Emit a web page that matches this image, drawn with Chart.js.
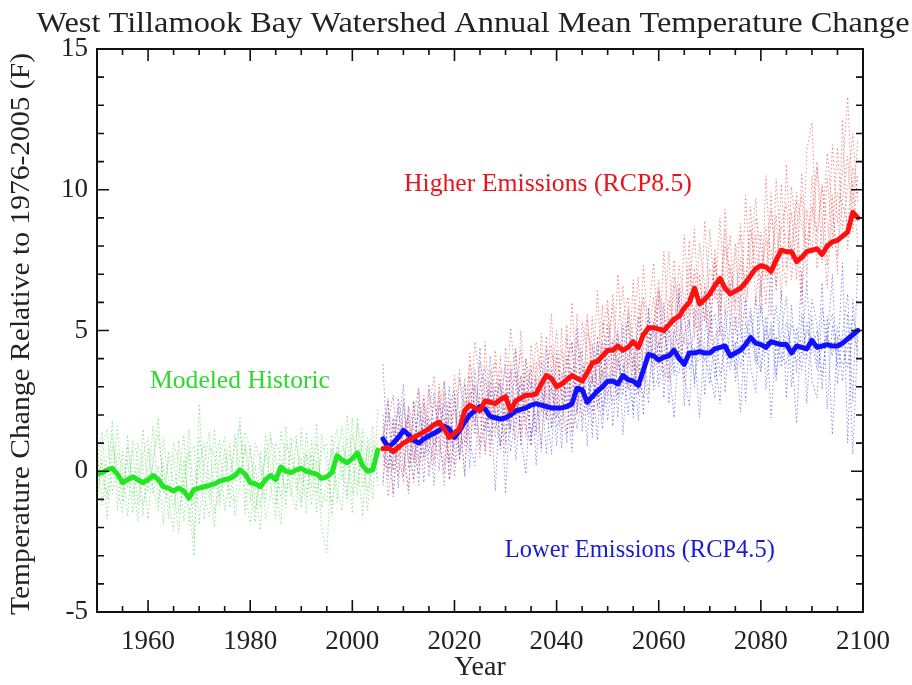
<!DOCTYPE html>
<html><head><meta charset="utf-8">
<script src="https://cdn.jsdelivr.net/npm/chart.js@4/dist/chart.umd.min.js"></script>
<style>html,body{margin:0;padding:0;background:#fff}</style>
</head><body>
<canvas id="c" width="912" height="685"></canvas>
<script>
// ---------- DATA ----------
const histStartYear = 1950;
const futureStartYear = 2006;
const xTickLabels = [1960, 1980, 2000, 2020, 2040, 2060, 2080, 2100];
const yTickLabels = [-5, 0, 5, 10, 15];

// Modeled historic ensemble mean (1950-2005)
const historicMean = [-0.1,-0.05,0.05,0.1,-0.1,-0.4,-0.3,-0.2,-0.3,-0.4,
  -0.3,-0.15,-0.3,-0.55,-0.6,-0.7,-0.6,-0.7,-0.95,-0.65,
  -0.6,-0.55,-0.5,-0.45,-0.35,-0.3,-0.25,-0.15,0.05,-0.1,
  -0.4,-0.45,-0.55,-0.3,-0.15,-0.3,0.15,0.0,-0.05,0.05,
  0.1,0.0,-0.05,-0.1,-0.25,-0.2,-0.05,0.55,0.4,0.3,
  0.45,0.65,0.2,0.0,0.05,0.75];
// Individual historic model runs
const historicRun1 = [0.8,-1.2,0.5,1.3,-0.6,-1.5,0.9,-0.3,-1.8,0.6,1.2,-0.8,0.2,-1.9,0.7,-0.5,-2.2,0.4,-1.1,-3.0,2.4,-0.9,-1.6,0.3,1.1,-1.4,-0.2,0.9,1.6,-0.7,-1.9,0.2,-1.3,0.8,-0.5,-1.7,1.4,0.3,-0.9,1.1,-0.4,0.7,-1.2,0.4,-2.0,-2.9,0.6,1.5,-0.3,1.2,-0.8,1.7,-0.6,0.9,-1.0,2.3];
const historicRun2 = [-1.3,0.9,1.5,-0.8,0.6,0.2,-1.6,1.1,0.5,-1.2,-0.4,1.6,-1.1,0.3,-1.7,1.0,0.4,-1.8,0.6,0.9,-1.9,0.3,1.4,-1.5,-0.6,0.8,-1.3,1.3,-0.4,1.0,-0.2,-1.8,0.7,-1.1,1.2,0.5,-1.0,1.6,-0.6,-1.4,1.5,-0.9,0.6,-1.5,1.3,0.2,-1.2,0.4,1.6,-0.9,1.9,-0.5,1.1,-1.4,0.8,-0.3];
const historicRun3 = [0.3,1.4,-1.0,-0.2,1.6,-0.7,0.4,-1.5,1.0,0.2,-1.7,0.5,1.3,-0.4,-1.0,-2.1,1.1,-0.8,1.5,-1.2,0.1,1.0,-0.3,-2.0,0.6,1.2,-0.8,-1.1,0.5,1.4,0.8,-0.6,-2.1,1.3,0.1,-0.5,-1.9,1.0,0.5,-0.2,-1.3,1.4,-0.2,1.0,-0.8,-1.1,1.3,-0.6,-1.4,2.0,0.3,-0.9,1.5,0.2,1.6,-0.6];
const historicRun4 = [-0.9,0.4,-1.7,0.9,0.2,-1.1,1.3,-0.9,0.1,-1.6,0.8,-0.6,-1.4,1.2,-0.3,-1.3,-0.2,1.3,-1.9,-0.4,0.5,-1.7,0.9,0.6,-1.2,0.3,1.0,-1.6,-0.5,0.9,-1.1,1.0,0.4,-1.7,-0.9,1.0,0.6,-1.3,1.2,-0.7,0.5,-1.5,1.1,-0.8,0.7,1.0,-1.6,0.9,0.2,-1.1,1.3,0.4,-1.6,1.2,-0.1,1.1];
const historicRun5 = [0.5,-0.3,-0.8,1.8,-1.4,0.7,-0.6,0.8,-1.2,1.5,-0.7,0.3,1.9,-0.8,0.4,0.6,-1.5,-0.3,0.8,-2.4,1.2,0.2,-1.0,1.5,-0.9,-0.2,0.7,-0.4,1.9,-1.5,0.9,-1.4,-0.3,0.5,1.4,-1.2,0.2,-0.8,0.9,1.3,-1.1,0.6,-0.6,1.7,-1.3,-0.4,0.8,-1.1,0.9,0.5,-1.5,1.9,0.4,-0.7,1.0,0.3];

// Higher emissions (RCP8.5) ensemble mean (2006-2099)
const rcp85Mean = [0.8,0.85,0.7,0.85,1.0,1.1,1.2,1.3,1.4,1.5,
  1.65,1.75,1.5,1.2,1.35,1.5,2.15,2.35,2.25,2.15,
  2.5,2.45,2.4,2.55,2.65,2.15,2.5,2.6,2.7,2.7,
  2.75,3.1,3.4,3.3,3.0,3.1,3.25,3.4,3.3,3.2,
  3.5,3.85,3.9,4.1,4.3,4.3,4.45,4.3,4.4,4.6,
  4.4,4.85,5.1,5.1,5.05,5.0,5.2,5.4,5.5,5.8,
  6.0,6.5,5.95,6.1,6.3,6.6,6.85,6.5,6.3,6.4,
  6.5,6.7,6.95,7.2,7.3,7.25,7.1,7.5,7.85,7.8,
  7.8,7.45,7.6,7.8,7.85,7.9,7.7,8.0,8.15,8.2,
  8.35,8.5,9.2,9.0];
const rcp85Run1 = [-0.5,2.1,1.4,-0.2,2.6,0.3,1.9,3.0,0.4,2.2,
  3.4,0.6,2.8,-0.3,1.2,3.6,1.0,4.2,2.1,0.5,
  4.6,1.8,3.9,0.9,4.4,2.5,1.1,5.0,2.2,3.8,
  1.4,4.9,2.6,5.6,1.9,4.3,2.3,6.0,3.0,1.8,
  5.4,3.1,6.4,2.9,5.8,3.4,7.0,4.2,2.9,6.8,
  3.5,7.3,4.6,6.2,3.7,7.8,4.9,6.6,3.9,8.4,
  5.5,7.2,4.3,8.9,5.9,7.6,4.8,9.3,6.2,8.1,
  5.0,9.8,6.7,8.4,5.6,10.5,7.0,9.1,6.1,10.9,
  7.5,9.6,6.3,11.4,12.4,8.0,10.2,7.3,11.6,8.8,
  10.6,13.3,9.4,11.8];
const rcp85Run2 = [1.6,-0.9,0.5,2.4,0.0,1.8,-0.4,1.5,2.7,0.1,
  1.3,2.9,0.2,2.5,-0.2,1.6,3.3,0.7,3.1,1.9,
  0.8,3.6,2.0,4.1,1.3,3.2,4.4,1.5,3.5,0.9,
  3.9,2.1,4.8,1.6,4.0,2.8,5.2,1.5,4.7,3.9,
  2.2,5.5,2.6,4.9,6.1,3.0,5.0,6.6,3.7,5.2,
  6.9,3.2,5.6,7.4,4.4,5.3,7.8,4.0,6.7,5.4,
  8.2,4.7,7.0,5.3,8.6,6.1,9.0,5.6,7.3,5.7,
  8.8,6.4,9.4,5.9,8.5,6.8,9.9,6.4,10.2,7.2,
  9.2,6.8,10.6,7.6,9.0,11.0,7.4,10.4,8.3,11.5,
  8.6,10.0,12.0,9.5];
const rcp85Run3 = [0.2,1.1,-0.8,1.7,0.6,-0.6,2.5,0.2,1.1,3.1,
  0.4,2.2,3.2,0.3,2.8,0.4,2.5,1.4,4.6,3.2,
  1.5,2.6,4.3,2.1,0.6,3.9,1.9,3.4,1.2,4.5,
  2.8,0.9,3.6,4.5,2.3,5.1,1.3,3.7,2.0,5.3,
  4.2,1.6,3.8,5.9,2.4,4.7,3.6,5.5,6.2,2.9,
  5.9,4.4,2.8,5.0,6.8,3.3,5.6,7.5,4.9,3.2,
  6.3,8.6,5.0,6.6,4.2,7.9,5.7,7.0,8.4,4.9,
  7.3,5.4,8.0,9.7,6.2,8.7,5.5,10.4,7.7,6.6,
  10.1,8.3,5.9,9.3,7.7,10.8,9.0,6.5,9.8,7.0,
  12.5,7.9,10.3,8.0];
const rcp85Run4 = [1.0,2.6,0.0,1.2,-0.4,2.3,0.8,-0.1,2.6,1.3,
  0.2,3.1,1.6,1.0,3.4,2.0,-0.1,2.9,1.6,3.9,
  2.8,0.5,3.2,3.0,2.0,5.1,3.3,1.2,4.0,2.9,
  4.6,3.3,1.9,4.2,3.6,1.4,4.8,2.7,5.6,2.4,
  4.9,4.4,2.2,5.3,3.6,6.3,4.0,3.0,5.8,4.6,
  2.8,6.0,5.7,3.9,6.4,5.6,3.2,6.9,5.8,4.5,
  7.3,5.1,8.1,6.6,4.9,7.4,6.2,8.6,5.2,7.7,
  8.4,6.0,7.1,9.0,8.0,5.9,9.3,7.6,8.8,9.5,
  6.8,8.7,9.8,6.9,10.5,7.2,8.6,11.3,9.2,7.6,
  9.7,11.2,8.5,10.6];
const rcp85Run5 = [0.6,0.0,1.8,0.5,1.3,2.0,0.3,2.4,1.0,0.9,
  2.5,1.4,-0.5,1.9,2.2,0.8,1.9,3.8,2.4,1.0,
  3.3,2.2,1.2,3.6,3.5,1.5,3.0,4.3,1.8,2.3,
  3.5,4.2,2.0,3.1,5.0,2.5,3.9,4.6,2.4,4.3,
  5.6,3.2,4.6,3.4,4.5,5.9,2.7,4.8,5.3,3.6,
  5.1,6.2,4.3,5.3,6.5,4.7,6.1,5.1,7.3,6.0,
  5.2,7.0,6.8,5.4,7.2,6.6,5.5,8.0,7.1,6.0,
  7.6,6.5,8.6,7.3,6.9,8.2,7.9,6.6,8.7,8.3,
  7.9,9.9,8.7,8.1,9.4,8.5,10.1,8.8,7.9,9.9,
  9.5,8.7,10.8,9.8];

// Lower emissions (RCP4.5) ensemble mean (2006-2099)
const rcp45Mean = [1.15,0.85,1.0,1.2,1.45,1.3,1.1,1.0,1.15,1.25,
  1.35,1.45,1.6,1.5,1.2,1.45,1.75,2.0,2.15,2.3,
  2.2,1.95,1.9,1.85,1.9,2.0,2.15,2.2,2.25,2.35,
  2.4,2.35,2.3,2.25,2.25,2.25,2.3,2.4,2.95,2.9,
  2.45,2.65,2.85,3.0,3.2,3.2,3.1,3.4,3.25,3.2,
  3.05,3.6,4.15,4.1,3.95,4.05,4.1,4.3,4.0,3.8,
  4.2,4.2,4.25,4.2,4.2,4.35,4.4,4.45,4.1,4.2,
  4.3,4.5,4.75,4.55,4.5,4.4,4.6,4.55,4.5,4.5,
  4.2,4.45,4.4,4.35,4.65,4.4,4.45,4.5,4.45,4.45,
  4.55,4.7,4.85,5.0];
const rcp45Run1 = [3.8,0.1,1.9,-0.6,2.4,0.8,-0.3,2.9,0.5,1.7,
  -0.5,2.6,0.9,3.0,0.2,2.1,-0.2,3.4,1.3,4.4,
  0.6,2.9,-0.7,3.1,1.0,3.6,0.4,2.4,4.0,1.1,
  3.3,0.7,4.4,1.5,3.0,0.8,4.1,2.0,5.1,1.4,
  3.6,1.2,4.8,2.2,5.2,1.6,4.0,2.7,5.6,1.9,
  4.6,2.0,5.8,3.1,6.2,2.6,5.0,3.4,6.5,2.3,
  5.4,3.0,6.0,2.7,5.7,3.3,6.6,2.8,5.3,3.6,
  6.3,2.5,5.6,3.9,6.9,2.9,5.1,3.2,6.4,2.6,
  5.9,3.5,7.1,2.4,5.5,3.8,6.7,2.2,5.2,3.7,
  7.4,1.0,6.1,3.9];
const rcp45Run2 = [-0.4,1.8,2.7,0.3,-0.2,2.3,1.6,-0.5,2.4,0.6,
  2.8,1.1,-0.1,2.3,2.9,0.4,3.1,1.0,0.2,3.0,
  3.7,0.9,2.4,3.3,-0.8,2.6,3.5,1.2,-0.1,3.2,
  1.3,3.9,2.4,0.6,4.3,2.7,1.0,4.6,2.1,3.8,
  0.9,4.5,3.0,1.5,4.3,4.6,1.9,5.2,3.3,2.2,
  5.5,3.6,2.4,5.3,4.0,6.0,2.4,4.9,6.3,3.4,
  2.3,5.8,4.1,6.4,3.5,2.6,5.4,4.7,6.7,3.2,
  4.6,6.1,3.7,2.8,5.9,4.3,7.2,3.4,4.9,6.2,
  3.0,5.1,4.2,6.8,3.2,2.6,5.8,4.6,7.0,3.1,
  4.9,6.3,2.5,7.5];
const rcp45Run3 = [1.2,2.5,-0.9,1.5,3.1,0.1,1.0,2.1,-0.4,2.9,
  1.7,0.0,3.2,1.4,0.8,3.3,2.2,0.1,3.6,2.0,
  1.4,4.1,2.0,0.8,2.9,1.5,4.3,0.9,2.8,3.6,
  0.2,2.9,1.8,3.7,0.9,3.5,2.6,0.7,3.9,4.3,
  2.0,3.3,1.1,4.6,2.7,3.8,5.0,1.3,4.1,4.4,
  1.8,4.7,5.4,2.9,3.4,5.1,3.9,1.9,4.8,5.6,
  3.6,4.4,1.9,4.9,6.1,4.0,2.4,5.7,3.8,4.6,
  2.1,5.3,4.4,6.2,3.6,5.5,1.9,4.8,3.9,5.3,
  4.3,1.7,5.6,4.0,6.1,5.2,2.9,5.5,1.3,4.8,
  3.2,5.6,0.6,4.9];
const rcp45Run4 = [2.0,-0.3,1.3,2.2,0.9,-0.8,2.5,0.4,1.9,-0.2,
  1.1,2.3,1.9,0.3,2.6,0.6,1.4,2.7,3.0,0.8,
  1.7,3.2,1.5,2.5,3.8,0.7,2.1,3.1,1.6,0.9,
  2.9,3.2,0.6,3.0,1.9,2.4,3.4,1.3,2.2,3.5,
  3.9,2.1,4.3,1.9,3.5,2.4,4.8,3.9,2.0,4.1,
  2.7,3.8,4.5,5.1,3.0,4.2,5.4,3.6,3.5,4.9,
  5.3,3.2,4.7,3.9,5.0,5.6,3.4,4.5,4.0,5.5,
  3.7,4.6,5.8,4.2,3.5,5.1,4.5,5.9,4.1,3.8,
  5.2,4.8,3.6,5.3,4.2,5.0,3.4,4.9,5.6,4.2,
  3.8,4.4,5.5,4.6];
const rcp45Run5 = [0.5,1.0,0.1,2.6,1.4,2.0,0.4,1.3,1.0,1.9,
  0.9,1.6,2.4,-0.3,1.5,1.2,0.9,2.2,1.8,2.6,
  2.4,1.3,3.0,0.9,2.3,1.4,1.6,3.4,2.5,1.3,
  2.1,2.0,3.2,2.9,1.6,1.9,3.0,2.8,1.5,2.7,
  2.5,3.4,2.3,3.6,1.8,3.5,2.6,3.8,2.9,3.3,
  3.8,2.6,4.4,3.7,4.6,3.5,3.3,5.0,4.3,3.9,
  4.6,4.0,3.9,4.4,3.1,4.8,5.1,4.2,3.6,4.5,
  5.0,4.1,4.9,3.8,4.6,4.2,5.3,4.4,3.7,4.8,
  4.5,3.9,4.1,5.0,4.7,3.6,4.4,4.8,4.1,5.1,
  4.4,3.7,4.9,4.3];

// ---------- CHART ----------
const SERIF = "'Liberation Serif', 'Times New Roman', serif";
function toPoints(startYear, values) {
  return values.map((v, i) => ({ x: startYear + i, y: v }));
}
function runStyle(color) {
  return { borderColor: color, borderWidth: 1, borderDash: [1.5, 2.5], pointRadius: 0, tension: 0, fill: false };
}
function meanStyle(color) {
  return { borderColor: color, borderWidth: 5, pointRadius: 0, tension: 0, fill: false, borderJoinStyle: 'round', borderCapStyle: 'round' };
}

// text placed in data coordinates (annotations) or canvas coordinates (titles)
const labelNotes = [
  { text: 'Higher Emissions (RCP8.5)', x: 2038.3, y: 10.2, color: '#e8141c', width: 288 },
  { text: 'Modeled Historic', x: 1978, y: 3.2, color: '#2ed82e', width: 180 },
  { text: 'Lower Emissions (RCP4.5)', x: 2056.3, y: -2.8, color: '#1a1ad6', width: 270 }
];
const chartTitle = 'West Tillamook Bay Watershed Annual Mean Temperature Change';
const yAxisTitle = 'Temperature Change Relative to 1976-2005 (F)';

function drawFitted(ctx, text, cx, cy, size, width, rot, color) {
  ctx.save();
  ctx.font = size + 'px ' + SERIF;
  ctx.textAlign = 'center';
  ctx.textBaseline = 'middle';
  ctx.fillStyle = color;
  const w = ctx.measureText(text).width;
  ctx.translate(cx, cy);
  ctx.rotate(rot);
  ctx.scale(width / w, 1);
  ctx.fillText(text, 0, 0);
  ctx.restore();
}

const frameTicks = {
  id: 'frameTicks',
  afterDatasetsDraw(chart) {
    const { ctx, chartArea: a, scales: { x, y } } = chart;
    ctx.save();
    ctx.strokeStyle = '#111';
    ctx.lineWidth = 2;
    ctx.strokeRect(a.left, a.top, a.right - a.left, a.bottom - a.top);
    ctx.lineWidth = 1.6;
    ctx.beginPath();
    for (let yr = 1955; yr < 2100; yr += 5) {
      const px = x.getPixelForValue(yr);
      const len = (yr % 20 === 0) ? 12 : 6;
      ctx.moveTo(px, a.bottom); ctx.lineTo(px, a.bottom - len);
      ctx.moveTo(px, a.top); ctx.lineTo(px, a.top + len);
    }
    for (let v = -4; v < 15; v += 1) {
      const py = y.getPixelForValue(v);
      const len = (v % 5 === 0) ? 12 : 7;
      ctx.moveTo(a.left, py); ctx.lineTo(a.left + len, py);
      ctx.moveTo(a.right, py); ctx.lineTo(a.right - len, py);
    }
    ctx.stroke();
    ctx.restore();
    labelNotes.forEach(n => {
      drawFitted(ctx, n.text, x.getPixelForValue(n.x), y.getPixelForValue(n.y), 25, n.width, 0, n.color);
    });
    drawFitted(ctx, chartTitle, 473, 24, 29, 873, 0, '#222');
    drawFitted(ctx, yAxisTitle, 22, 334, 28, 562, -Math.PI / 2, '#222');
  }
};

const redRun = 'rgba(230,50,50,0.55)';
const blueRun = 'rgba(50,50,220,0.55)';
const greenRun = 'rgba(60,210,60,0.55)';

new Chart(document.getElementById('c'), {
  type: 'line',
  data: {
    datasets: [
      { label: 'Higher Emissions (RCP8.5)', data: toPoints(futureStartYear, rcp85Mean), ...meanStyle('#ff1010') },
      { label: 'Lower Emissions (RCP4.5)', data: toPoints(futureStartYear, rcp45Mean), ...meanStyle('#1010ff') },
      { label: 'Modeled Historic', data: toPoints(histStartYear, historicMean), ...meanStyle('#22e622') },
      { label: 'RCP8.5 run 1', data: toPoints(futureStartYear, rcp85Run1), ...runStyle(redRun) },
      { label: 'RCP4.5 run 1', data: toPoints(futureStartYear, rcp45Run1), ...runStyle(blueRun) },
      { label: 'RCP8.5 run 2', data: toPoints(futureStartYear, rcp85Run2), ...runStyle(redRun) },
      { label: 'RCP4.5 run 2', data: toPoints(futureStartYear, rcp45Run2), ...runStyle(blueRun) },
      { label: 'RCP8.5 run 3', data: toPoints(futureStartYear, rcp85Run3), ...runStyle(redRun) },
      { label: 'RCP4.5 run 3', data: toPoints(futureStartYear, rcp45Run3), ...runStyle(blueRun) },
      { label: 'RCP8.5 run 4', data: toPoints(futureStartYear, rcp85Run4), ...runStyle(redRun) },
      { label: 'RCP4.5 run 4', data: toPoints(futureStartYear, rcp45Run4), ...runStyle(blueRun) },
      { label: 'RCP8.5 run 5', data: toPoints(futureStartYear, rcp85Run5), ...runStyle(redRun) },
      { label: 'RCP4.5 run 5', data: toPoints(futureStartYear, rcp45Run5), ...runStyle(blueRun) },
      { label: 'Historic run 1', data: toPoints(histStartYear, historicRun1), ...runStyle(greenRun) },
      { label: 'Historic run 2', data: toPoints(histStartYear, historicRun2), ...runStyle(greenRun) },
      { label: 'Historic run 3', data: toPoints(histStartYear, historicRun3), ...runStyle(greenRun) },
      { label: 'Historic run 4', data: toPoints(histStartYear, historicRun4), ...runStyle(greenRun) },
      { label: 'Historic run 5', data: toPoints(histStartYear, historicRun5), ...runStyle(greenRun) }
    ]
  },
  options: {
    responsive: false,
    animation: false,
    devicePixelRatio: 1,
    layout: { padding: { left: 0, right: 49, top: 49, bottom: 0 } },
    plugins: {
      legend: { display: false },
      tooltip: { enabled: false },
      title: { display: false }
    },
    scales: {
      x: {
        type: 'linear', min: 1950, max: 2100,
        grid: { display: false, drawTicks: false },
        border: { display: false },
        afterBuildTicks: s => { s.ticks = xTickLabels.map(v => ({ value: v })); },
        afterFit: s => { s.height = 73; },
        ticks: { color: '#222', font: { family: SERIF, size: 27 }, padding: 14, maxRotation: 0, autoSkip: false, callback: v => String(v) },
        title: { display: true, text: 'Year', color: '#222', font: { family: SERIF, size: 28 }, padding: { top: 0, bottom: 1 } }
      },
      y: {
        type: 'linear', min: -5, max: 15,
        grid: { display: false, drawTicks: false },
        border: { display: false },
        afterBuildTicks: s => { s.ticks = yTickLabels.map(v => ({ value: v })); },
        afterFit: s => { s.width = 97; },
        ticks: { color: '#222', font: { family: SERIF, size: 27 }, padding: 9, autoSkip: false, callback: v => String(v) },
        title: { display: false }
      }
    }
  },
  plugins: [frameTicks]
});
</script>
</body></html>
